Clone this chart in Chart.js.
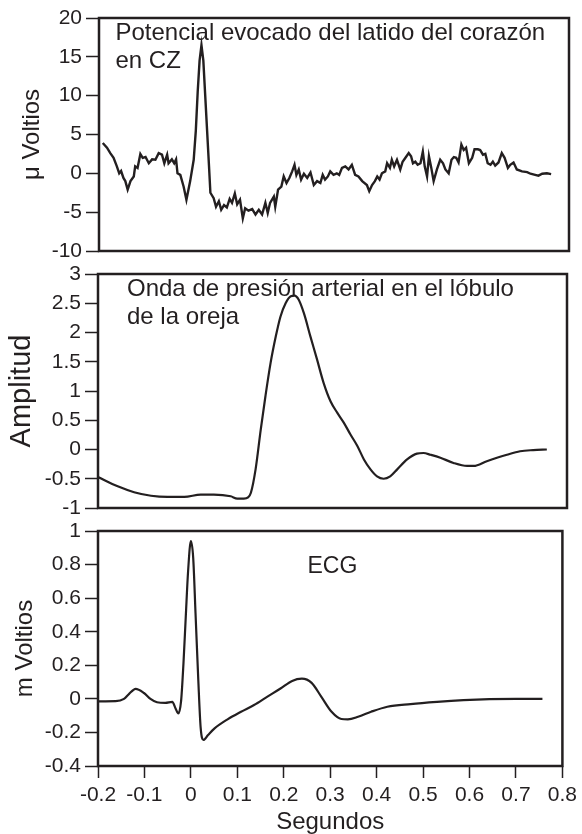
<!DOCTYPE html>
<html><head><meta charset="utf-8">
<script src="https://cdn.jsdelivr.net/npm/chart.js@4.4.1/dist/chart.umd.min.js"></script>
<style>
html,body{margin:0;padding:0;background:#fff;}
body{width:582px;height:834px;position:relative;overflow:hidden;}
canvas{position:absolute;left:0;}
</style></head><body>
<canvas id="c1" width="582" height="270" style="top:0px"></canvas>
<canvas id="c2" width="582" height="270" style="top:255px"></canvas>
<canvas id="c3" width="582" height="324" style="top:510px"></canvas>
<script>
// ---------- DATA ----------
const xTicks = [-0.2, -0.1, 0, 0.1, 0.2, 0.3, 0.4, 0.5, 0.6, 0.7, 0.8];
const xTickLabels = ['-0.2', '-0.1', '0', '0.1', '0.2', '0.3', '0.4', '0.5', '0.6', '0.7', '0.8'];

const eegTicks = [-10, -5, 0, 5, 10, 15, 20];
const eegTickLabels = ['-10', '-5', '0', '5', '10', '15', '20'];
const pressureTicks = [-1, -0.5, 0, 0.5, 1, 1.5, 2, 2.5, 3];
const pressureTickLabels = ['-1', '-0.5', '0', '0.5', '1', '1.5', '2', '2.5', '3'];
const ecgTicks = [-0.4, -0.2, 0, 0.2, 0.4, 0.6, 0.8, 1];
const ecgTickLabels = ['-0.4', '-0.2', '0', '0.2', '0.4', '0.6', '0.8', '1'];

const eegX = [-0.192, -0.183, -0.176, -0.169, -0.162, -0.157, -0.153, -0.148, -0.144, -0.139, -0.133, -0.126, -0.123, -0.118, -0.112, -0.107, -0.101, -0.094, -0.087, -0.080, -0.073, -0.066, -0.061, -0.055, -0.052, -0.045, -0.040, -0.036, -0.033, -0.027, -0.020, -0.014, -0.006, 0.0015, 0.006, 0.010, 0.014, 0.018, 0.022, 0.026, 0.030, 0.034, 0.037, 0.044, 0.049, 0.055, 0.060, 0.066, 0.072, 0.078, 0.083, 0.089, 0.094, 0.100, 0.106, 0.111, 0.118, 0.126, 0.133, 0.140, 0.147, 0.154, 0.159, 0.164, 0.172, 0.175, 0.181, 0.188, 0.193, 0.199, 0.205, 0.211, 0.216, 0.220, 0.225, 0.230, 0.236, 0.243, 0.250, 0.257, 0.264, 0.271, 0.276, 0.281, 0.287, 0.292, 0.299, 0.306, 0.311, 0.317, 0.324, 0.331, 0.338, 0.345, 0.352, 0.360, 0.370, 0.375, 0.381, 0.387, 0.392, 0.397, 0.402, 0.409, 0.413, 0.419, 0.423, 0.428, 0.434, 0.441, 0.446, 0.452, 0.459, 0.464, 0.468, 0.473, 0.478, 0.484, 0.489, 0.493, 0.498, 0.502, 0.507, 0.512, 0.519, 0.526, 0.532, 0.537, 0.544, 0.550, 0.555, 0.560, 0.565, 0.571, 0.576, 0.581, 0.587, 0.594, 0.599, 0.606, 0.611, 0.617, 0.622, 0.627, 0.633, 0.638, 0.643, 0.650, 0.657, 0.663, 0.670, 0.675, 0.682, 0.689, 0.700, 0.711, 0.718, 0.728, 0.735, 0.743, 0.753, 0.762];
const eegY = [3.9, 3.3, 2.6, 2.0, 0.9, 0.0, 0.3, -0.6, -1.0, -2.1, -1.0, -0.4, 0.9, 0.7, 2.5, 2.0, 2.1, 1.3, 1.8, 1.75, 2.6, 2.4, 1.3, 2.4, 1.3, 1.8, 1.3, 1.8, 0.0, -0.2, -1.7, -3.4, -1.0, 1.75, 5.5, 10.5, 14.5, 16.5, 14.5, 10.0, 5.5, 1.0, -2.5, -3.2, -4.3, -3.6, -4.7, -4.1, -4.4, -3.3, -3.8, -2.6, -4.0, -3.4, -5.8, -4.5, -4.8, -4.6, -5.3, -4.7, -5.3, -3.8, -5.1, -3.8, -3.0, -4.3, -2.1, -1.7, -0.4, -1.25, -0.6, 0.25, 1.1, -0.2, 0.5, -0.8, -0.05, -0.6, 0.1, -1.5, -1.0, -1.25, -0.2, -0.8, -0.4, 0.25, -0.2, 0.0, -0.2, 0.7, 0.9, 0.5, 1.1, -0.2, -0.4, -1.0, -1.5, -2.3, -1.5, -1.0, -0.4, -0.8, 0.0, 0.25, 1.3, 0.7, 1.75, 0.9, 1.75, 0.5, 1.5, 2.0, 2.6, 2.2, 1.3, 1.5, 1.1, 1.3, 2.8, 0.9, -0.4, 2.2, 0.7, -1.0, 0.5, 1.75, 1.3, 0.5, 0.0, 1.75, 2.1, 2.0, 1.4, 3.7, 3.0, 3.3, 1.3, 2.0, 3.1, 3.1, 3.0, 2.4, 2.5, 1.3, 1.1, 1.5, 1.0, 1.4, 2.6, 2.0, 0.7, 1.1, 1.4, 0.5, 0.25, 0.15, -0.05, -0.2, -0.3, -0.05, 0.0, -0.1];

const pressureX = [-0.2, -0.158, -0.123, -0.087, -0.052, -0.016, 0.019, 0.047, 0.083, 0.097, 0.111, 0.120, 0.126, 0.136, 0.147, 0.157, 0.168, 0.179, 0.189, 0.200, 0.211, 0.219, 0.228, 0.239, 0.253, 0.267, 0.281, 0.296, 0.310, 0.324, 0.338, 0.353, 0.367, 0.381, 0.395, 0.409, 0.423, 0.438, 0.459, 0.480, 0.494, 0.509, 0.530, 0.558, 0.587, 0.601, 0.629, 0.672, 0.700, 0.728, 0.757];
const pressureY = [-0.47, -0.63, -0.73, -0.79, -0.81, -0.81, -0.77, -0.77, -0.80, -0.84, -0.84, -0.82, -0.74, -0.34, 0.34, 0.91, 1.48, 1.93, 2.27, 2.50, 2.62, 2.63, 2.56, 2.33, 1.93, 1.54, 1.14, 0.82, 0.63, 0.46, 0.26, 0.06, -0.17, -0.34, -0.46, -0.50, -0.46, -0.34, -0.17, -0.07, -0.06, -0.09, -0.14, -0.23, -0.28, -0.28, -0.20, -0.09, -0.03, -0.01, 0.0];

const ecgX = [-0.198, -0.162, -0.144, -0.133, -0.119, -0.101, -0.087, -0.073, -0.055, -0.040, -0.033, -0.027, -0.021, -0.016, -0.011, -0.006, 0.0, 0.005, 0.010, 0.016, 0.021, 0.027, 0.037, 0.051, 0.079, 0.108, 0.136, 0.164, 0.193, 0.218, 0.239, 0.260, 0.281, 0.303, 0.324, 0.338, 0.360, 0.388, 0.423, 0.473, 0.530, 0.587, 0.643, 0.700, 0.757];
const ecgY = [-0.015, -0.014, 0.0, 0.03, 0.06, 0.035, 0.0, -0.02, -0.024, -0.018, -0.057, -0.087, -0.01, 0.21, 0.49, 0.76, 0.94, 0.84, 0.51, 0.11, -0.17, -0.245, -0.215, -0.176, -0.122, -0.077, -0.037, 0.012, 0.062, 0.107, 0.12, 0.095, 0.012, -0.077, -0.12, -0.122, -0.107, -0.077, -0.047, -0.031, -0.018, -0.008, -0.002, 0.0, 0.0];

const panelTitles = [
  ['Potencial evocado del latido del corazón', 'en CZ'],
  ['Onda de presión arterial en el lóbulo', 'de la oreja'],
  ['ECG']
];
const yTitles = ['\u03bc Voltios', 'Amplitud', 'm Voltios'];
const xTitle = 'Segundos';

// ---------- RENDERING ----------
const INK = '#231f20';
const FAMILY = "'Liberation Sans', Arial, Helvetica, sans-serif";

const framePlugin = {
  id: 'frame',
  afterDatasetsDraw(chart) {
    const {ctx, chartArea: a} = chart;
    ctx.save();
    ctx.strokeStyle = INK;
    ctx.lineWidth = 2.5;
    ctx.strokeRect(a.left, a.top, a.right - a.left, a.bottom - a.top);
    ctx.restore();
  }
};
const labelPlugin = {
  id: 'panelLabel',
  afterDraw(chart, args, o) {
    if (!o || !o.lines) return;
    const ctx = chart.ctx;
    ctx.save();
    ctx.fillStyle = INK;
    ctx.font = o.size + 'px ' + FAMILY;
    ctx.textAlign = 'left';
    ctx.textBaseline = 'alphabetic';
    o.lines.forEach((t, i) => ctx.fillText(t, o.x, o.y + i * o.lh));
    ctx.restore();
  }
};

function pts(xs, ys) { return xs.map((x, i) => ({x: x, y: ys[i]})); }
function fixedTicks(values, labels) {
  return {
    afterBuildTicks: (s) => { s.ticks = values.map(v => ({value: v})); },
    callback: (v) => { const i = values.findIndex(t => Math.abs(t - v) < 1e-9); return i >= 0 ? labels[i] : ''; }
  };
}

function makePanel(id, cfg) {
  const ft = fixedTicks(cfg.yTicks, cfg.yLabels);
  const xft = fixedTicks(xTicks, xTickLabels);
  return new Chart(document.getElementById(id), {
    type: 'line',
    data: { datasets: [{
      data: pts(cfg.xs, cfg.ys),
      borderColor: INK, borderWidth: cfg.lw, pointRadius: 0,
      tension: 0, cubicInterpolationMode: cfg.smooth ? 'monotone' : 'default',
      fill: false
    }]},
    options: {
      responsive: false, animation: false, devicePixelRatio: 1,
      layout: { padding: cfg.padding },
      plugins: { legend: {display: false}, tooltip: {enabled: false},
        panelLabel: cfg.label },
      scales: {
        x: {
          type: 'linear', min: -0.2, max: 0.8, display: cfg.showX,
          afterBuildTicks: xft.afterBuildTicks,
          afterFit: (s) => { if (cfg.showX) s.height = 68; },
          border: {display: false},
          grid: {display: true, drawOnChartArea: false, drawTicks: true, tickLength: 12, tickWidth: 1.5, tickColor: INK},
          ticks: {callback: xft.callback, color: INK, font: {family: FAMILY, size: 21}, padding: 5, autoSkip: false, maxRotation: 0},
          title: {display: true, text: xTitle, color: INK, font: {family: FAMILY, size: 24}, padding: {top: 0, bottom: -3}}
        },
        y: {
          type: 'linear', min: cfg.yTicks[0], max: cfg.yTicks[cfg.yTicks.length - 1],
          afterBuildTicks: ft.afterBuildTicks,
          afterFit: (s) => { s.width = cfg.yWidth; },
          border: {display: false},
          grid: {display: true, drawOnChartArea: false, drawTicks: true, tickLength: 13, tickWidth: 1.5, tickColor: INK},
          ticks: {callback: ft.callback, color: INK, font: {family: FAMILY, size: 21}, padding: 4, autoSkip: false},
          title: {display: true, text: cfg.yTitle, color: INK, font: {family: FAMILY, size: cfg.yTitleSize}, padding: {top: cfg.yTitlePad, bottom: 0}}
        }
      }
    },
    plugins: [framePlugin, labelPlugin]
  });
}

makePanel('c1', {
  xs: eegX, ys: eegY, lw: 2.4, smooth: false, showX: false,
  yTicks: eegTicks, yLabels: eegTickLabels, yWidth: 99,
  yTitle: yTitles[0], yTitleSize: 24, yTitlePad: 18,
  padding: {top: 18, bottom: 19, left: 0, right: 13},
  label: {lines: panelTitles[0], x: 115.5, y: 40, lh: 28, size: 24}
});
makePanel('c2', {
  xs: pressureX, ys: pressureY, lw: 2.2, smooth: true, showX: false,
  yTicks: pressureTicks, yLabels: pressureTickLabels, yWidth: 98,
  yTitle: yTitles[1], yTitleSize: 29, yTitlePad: 5,
  padding: {top: 19, bottom: 17, left: 0, right: 15},
  label: {lines: panelTitles[1], x: 127, y: 41, lh: 27.5, size: 24}
});
makePanel('c3', {
  xs: ecgX, ys: ecgY, lw: 2.2, smooth: true, showX: true,
  yTicks: ecgTicks, yLabels: ecgTickLabels, yWidth: 98,
  yTitle: yTitles[2], yTitleSize: 24, yTitlePad: 11,
  padding: {top: 21, bottom: 0, left: 0, right: 15},
  label: {lines: panelTitles[2], x: 307.5, y: 63, lh: 28, size: 23}
});
</script>
</body></html>
